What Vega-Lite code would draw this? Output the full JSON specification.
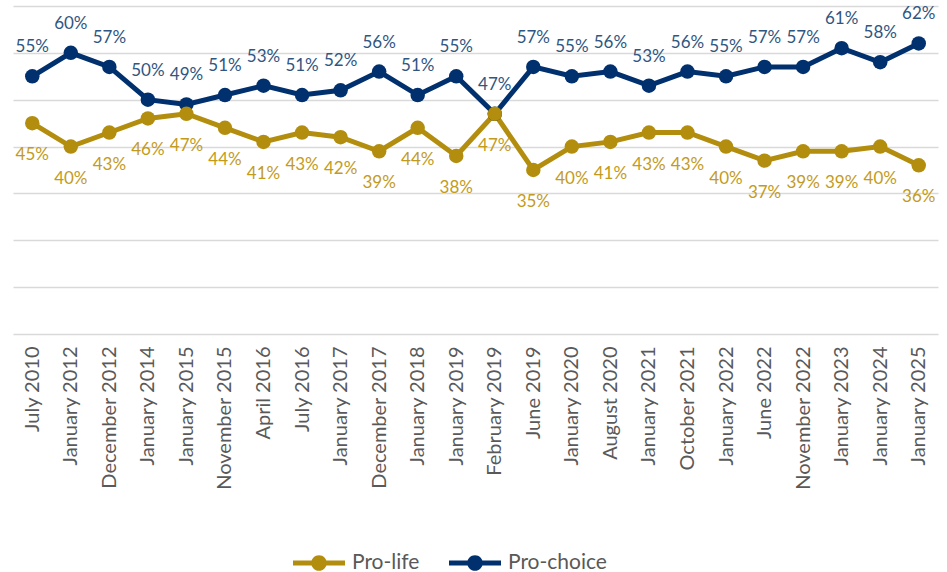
{
  "$schema": "https://vega.github.io/schema/vega-lite/v6.json",
  "width": 925,
  "height": 328,
  "autosize": {"type": "none"},
  "padding": {"left": 13, "top": 6, "right": 9, "bottom": 238},
  "background": "white",
  "config": {
    "view": {"stroke": null},
    "font": "Lato",
    "text": {"font": "Lato"},
    "legend": {
      "title": null,
      "orient": "none",
      "direction": "horizontal",
      "legendX": 280,
      "legendY": 531,
      "padding": 0,
      "symbolType": "M-1,-0.1 L1,-0.1 L1,0.1 L-1,0.1 Z M-0.3,0 A0.3,0.3 0 1,1 0.3,0 A0.3,0.3 0 1,1 -0.3,0 Z",
      "symbolSize": 2704,
      "symbolStrokeWidth": 0,
      "symbolOpacity": 1,
      "labelFont": "Lato",
      "labelFontSize": 21,
      "labelColor": "#595959",
      "labelOffset": 7,
      "columnPadding": 29
    }
  },
  "data": {
    "values": [
      {"date": "July 2010", "series": "Pro-choice", "value": 0.55},
      {"date": "January 2012", "series": "Pro-choice", "value": 0.60},
      {"date": "December 2012", "series": "Pro-choice", "value": 0.57},
      {"date": "January 2014", "series": "Pro-choice", "value": 0.50},
      {"date": "January 2015", "series": "Pro-choice", "value": 0.49},
      {"date": "November 2015", "series": "Pro-choice", "value": 0.51},
      {"date": "April 2016", "series": "Pro-choice", "value": 0.53},
      {"date": "July 2016", "series": "Pro-choice", "value": 0.51},
      {"date": "January 2017", "series": "Pro-choice", "value": 0.52},
      {"date": "December 2017", "series": "Pro-choice", "value": 0.56},
      {"date": "January 2018", "series": "Pro-choice", "value": 0.51},
      {"date": "January 2019", "series": "Pro-choice", "value": 0.55},
      {"date": "February 2019", "series": "Pro-choice", "value": 0.47},
      {"date": "June 2019", "series": "Pro-choice", "value": 0.57},
      {"date": "January 2020", "series": "Pro-choice", "value": 0.55},
      {"date": "August 2020", "series": "Pro-choice", "value": 0.56},
      {"date": "January 2021", "series": "Pro-choice", "value": 0.53},
      {"date": "October 2021", "series": "Pro-choice", "value": 0.56},
      {"date": "January 2022", "series": "Pro-choice", "value": 0.55},
      {"date": "June 2022", "series": "Pro-choice", "value": 0.57},
      {"date": "November 2022", "series": "Pro-choice", "value": 0.57},
      {"date": "January 2023", "series": "Pro-choice", "value": 0.61},
      {"date": "January 2024", "series": "Pro-choice", "value": 0.58},
      {"date": "January 2025", "series": "Pro-choice", "value": 0.62},
      {"date": "July 2010", "series": "Pro-life", "value": 0.45},
      {"date": "January 2012", "series": "Pro-life", "value": 0.40},
      {"date": "December 2012", "series": "Pro-life", "value": 0.43},
      {"date": "January 2014", "series": "Pro-life", "value": 0.46},
      {"date": "January 2015", "series": "Pro-life", "value": 0.47},
      {"date": "November 2015", "series": "Pro-life", "value": 0.44},
      {"date": "April 2016", "series": "Pro-life", "value": 0.41},
      {"date": "July 2016", "series": "Pro-life", "value": 0.43},
      {"date": "January 2017", "series": "Pro-life", "value": 0.42},
      {"date": "December 2017", "series": "Pro-life", "value": 0.39},
      {"date": "January 2018", "series": "Pro-life", "value": 0.44},
      {"date": "January 2019", "series": "Pro-life", "value": 0.38},
      {"date": "February 2019", "series": "Pro-life", "value": 0.47},
      {"date": "June 2019", "series": "Pro-life", "value": 0.35},
      {"date": "January 2020", "series": "Pro-life", "value": 0.40},
      {"date": "August 2020", "series": "Pro-life", "value": 0.41},
      {"date": "January 2021", "series": "Pro-life", "value": 0.43},
      {"date": "October 2021", "series": "Pro-life", "value": 0.43},
      {"date": "January 2022", "series": "Pro-life", "value": 0.40},
      {"date": "June 2022", "series": "Pro-life", "value": 0.37},
      {"date": "November 2022", "series": "Pro-life", "value": 0.39},
      {"date": "January 2023", "series": "Pro-life", "value": 0.39},
      {"date": "January 2024", "series": "Pro-life", "value": 0.40},
      {"date": "January 2025", "series": "Pro-life", "value": 0.36}
    ]
  },
  "encoding": {
    "x": {
      "field": "date",
      "type": "ordinal",
      "sort": null,
      "axis": {
        "title": null,
        "labelAngle": 270,
        "labelFont": "Lato",
        "labelFontSize": 20,
        "labelColor": "#595959",
        "labelPadding": 12,
        "ticks": false,
        "domain": false,
        "grid": false
      }
    },
    "y": {
      "field": "value",
      "type": "quantitative",
      "scale": {"domain": [0, 0.7], "nice": false, "zero": true},
      "axis": {
        "title": null,
        "labels": false,
        "ticks": false,
        "domain": false,
        "grid": true,
        "gridColor": "#D9D9D9",
        "gridWidth": 1.5,
        "values": [0, 0.1, 0.2, 0.3, 0.4, 0.5, 0.6, 0.7]
      }
    }
  },
  "layer": [
    {
      "mark": {"type": "line", "strokeWidth": 5},
      "encoding": {
        "color": {
          "field": "series",
          "type": "nominal",
          "scale": {"domain": ["Pro-life", "Pro-choice"], "range": ["#B38E0E", "#00306E"]},
          "legend": {
            "encode": {
              "symbols": {
                "update": {
                  "fill": {"scale": "color", "field": "value"},
                  "strokeWidth": {"value": 0},
                  "opacity": {"value": 1}
                }
              }
            }
          }
        }
      }
    },
    {
      "mark": {"type": "point", "filled": true, "size": 210, "opacity": 1},
      "encoding": {
        "color": {
          "field": "series",
          "type": "nominal",
          "scale": {"domain": ["Pro-life", "Pro-choice"], "range": ["#B38E0E", "#00306E"]},
          "legend": {
            "encode": {
              "symbols": {
                "update": {
                  "fill": {"scale": "color", "field": "value"},
                  "strokeWidth": {"value": 0},
                  "opacity": {"value": 1}
                }
              }
            }
          }
        }
      }
    },
    {
      "transform": [{"filter": "datum.series === 'Pro-choice'"}],
      "mark": {"type": "text", "font": "Lato", "fontSize": 17, "color": "#2F5682", "baseline": "middle", "align": "center", "dy": -29},
      "encoding": {"text": {"field": "value", "type": "quantitative", "format": ".0%"}}
    },
    {
      "transform": [{"filter": "datum.series === 'Pro-life'"}],
      "mark": {"type": "text", "font": "Lato", "fontSize": 17, "color": "#C39B1C", "baseline": "middle", "align": "center", "dy": 32},
      "encoding": {"text": {"field": "value", "type": "quantitative", "format": ".0%"}}
    }
  ]
}
